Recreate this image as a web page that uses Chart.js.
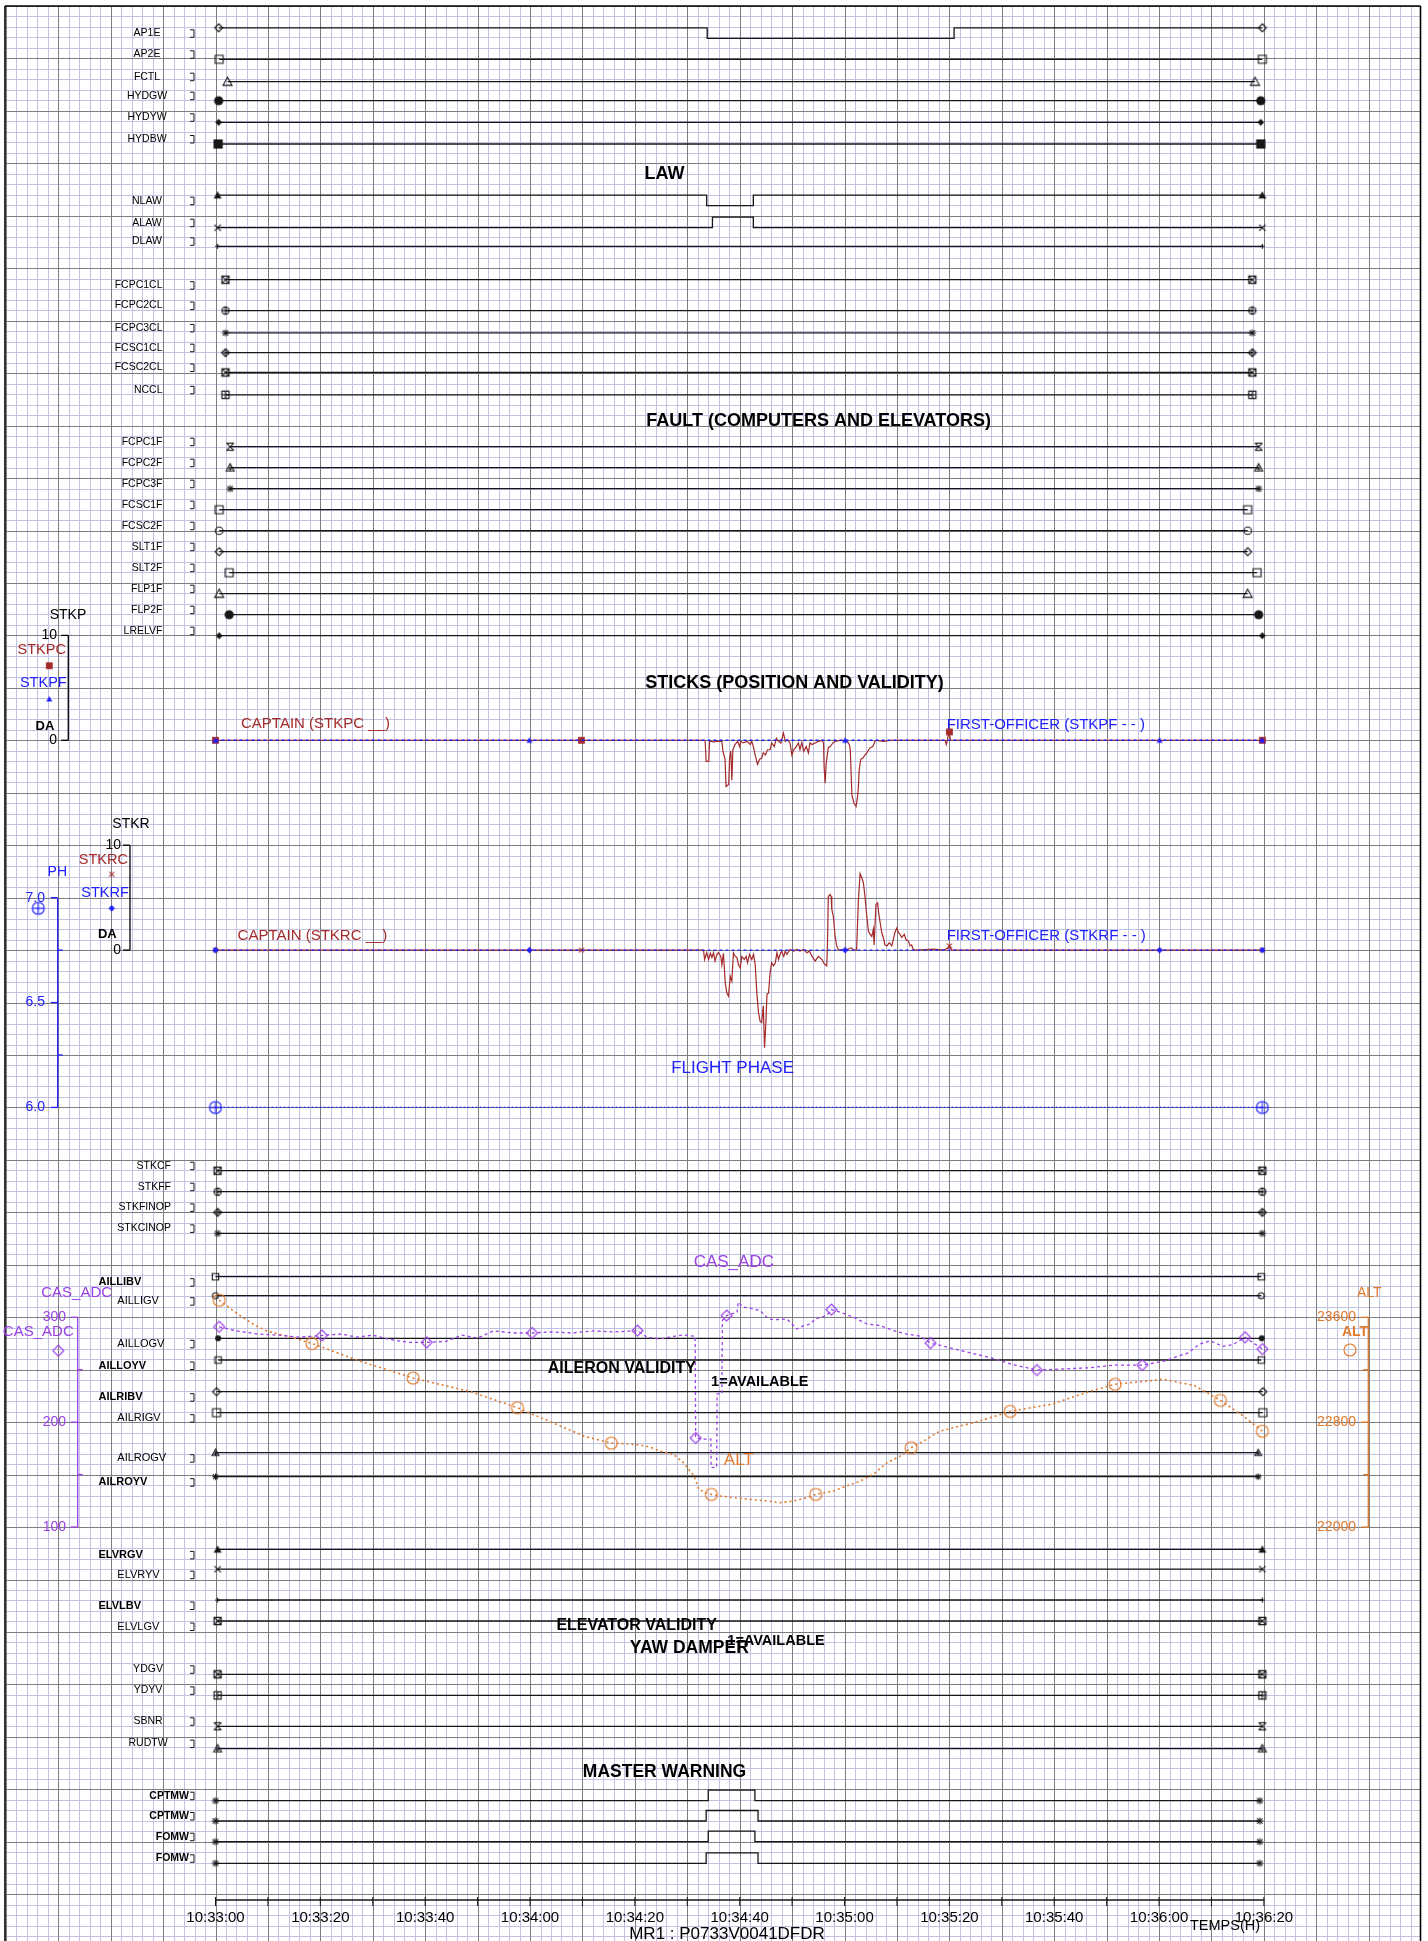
<!DOCTYPE html>
<html>
<head>
<meta charset="utf-8">
<title>DFDR MR1</title>
<script src="https://cdn.jsdelivr.net/npm/chart.js@4.4.1/dist/chart.umd.min.js"></script>
<style>
  html, body { margin: 0; padding: 0; background: #fff; }
  canvas { display: block; }
</style>
</head>
<body>
<canvas id="fdr" width="1428" height="1941"></canvas>
<script>
// time is in seconds after 10:33:00
const tickSeconds = [0, 20, 40, 60, 80, 100, 120, 140, 160, 180, 200];
const tickLabels = ['10:33:00', '10:33:20', '10:33:40', '10:34:00', '10:34:20', '10:34:40',
  '10:35:00', '10:35:20', '10:35:40', '10:36:00', '10:36:20'];

// discrete parameters (0/1)
const trackNames = ['AP1E', 'AP2E', 'FCTL', 'HYDGW', 'HYDYW', 'HYDBW',
  'NLAW', 'ALAW', 'DLAW',
  'FCPC1CL', 'FCPC2CL', 'FCPC3CL', 'FCSC1CL', 'FCSC2CL', 'NCCL',
  'FCPC1F', 'FCPC2F', 'FCPC3F', 'FCSC1F', 'FCSC2F', 'SLT1F', 'SLT2F', 'FLP1F', 'FLP2F', 'LRELVF',
  'STKCF', 'STKFF', 'STKFINOP', 'STKCINOP',
  'AILLIBV', 'AILLIGV', 'AILLOGV', 'AILLOYV', 'AILRIBV', 'AILRIGV', 'AILROGV', 'AILROYV',
  'ELVRGV', 'ELVRYV', 'ELVLBV', 'ELVLGV',
  'YDGV', 'YDYV', 'SBNR', 'RUDTW',
  'CPTMW', 'CPTMW', 'FOMW', 'FOMW'];
const trackLevel = [1, 0, 0, 0, 0, 0,
  1, 0, 0,
  1, 0, 0, 0, 0, 0,
  0, 0, 0, 0, 0, 0, 0, 0, 0, 0,
  0, 0, 0, 0,
  1, 1, 1, 1, 1, 1, 1, 1,
  1, 1, 1, 1,
  0, 0, 0, 0,
  0, 0, 0, 0];
const trackFirst = [0.6, 0.7, 2.3, 0.6, 0.6, 0.5,
  0.4, 0.4, 0.4,
  1.9, 1.9, 1.9, 1.9, 1.9, 1.9,
  2.8, 2.8, 2.8, 0.7, 0.7, 0.7, 2.6, 0.7, 2.6, 0.7,
  0.4, 0.4, 0.4, 0.4,
  0.0, 0.0, 0.5, 0.5, 0.2, 0.2, 0.0, 0.0,
  0.4, 0.4, 0.4, 0.4,
  0.4, 0.4, 0.4, 0.4,
  0.0, 0.0, 0.0, 0.0];
const trackLast = [199.7, 199.7, 198.3, 199.4, 199.4, 199.4,
  199.7, 199.7, 199.7,
  197.8, 197.8, 197.8, 197.8, 197.8, 197.8,
  199.0, 199.0, 199.0, 196.9, 196.9, 196.9, 198.7, 196.9, 199.0, 199.7,
  199.7, 199.7, 199.7, 199.7,
  199.5, 199.5, 199.6, 199.5, 199.8, 199.8, 198.9, 198.9,
  199.7, 199.7, 199.7, 199.7,
  199.7, 199.7, 199.7, 199.7,
  199.2, 199.2, 199.2, 199.2];
// [time, new level]
const ap1eSteps = [[93.8, 0], [140.9, 1]];
const nlawSteps = [[93.7, 0], [102.6, 1]];
const alawSteps = [[94.8, 1], [102.6, 0]];
const cptmw1Steps = [[94.0, 1], [102.9, 0]];
const cptmw2Steps = [[93.6, 1], [103.5, 0]];
const fomw1Steps = [[94.0, 1], [102.9, 0]];
const fomw2Steps = [[93.6, 1], [103.5, 0]];
const stepsByTrack = { 0: ap1eSteps, 6: nlawSteps, 7: alawSteps, 45: cptmw1Steps, 46: cptmw2Steps, 47: fomw1Steps, 48: fomw2Steps };

// stick positions (deg)
const stkpcT = [0, 69.8, 93.4, 93.6, 94.1, 94.25, 94.7, 95.0, 95.3, 96.6, 96.8, 97.2, 97.4, 97.9, 98.06, 98.3, 98.5, 98.7,
  99.1, 99.6, 100.0, 100.2, 100.7, 101.4, 102.0, 102.3, 102.6, 103.0, 103.4, 103.8, 104.2, 104.5, 104.9, 105.3, 105.8,
  106.1, 106.6, 107.0, 107.4, 107.85, 108.35, 108.7, 109.1, 109.6, 109.95, 110.3, 110.8, 111.2, 111.5, 111.85, 112.2,
  112.7, 113.1, 113.4, 113.8, 114.4, 115.0, 115.7, 116.0, 116.1, 116.3, 116.5, 116.9, 117.25, 117.8, 118.2, 118.8,
  119.5, 120.4, 120.9, 121.1, 121.4, 121.8, 122.2, 122.5, 122.65, 122.8, 123.1, 123.5, 123.9, 124.25, 124.6, 124.9,
  125.4, 125.8, 126.15, 127.4, 128.7, 139.2, 139.4, 139.6, 139.9, 140.0, 140.2, 199.7];
const stkpcV = [0, 0, 0, -2.0, -2.0, -0.1, -0.1, -0.2, -0.1, -0.1, -1.0, -1.8, -4.4, -4.2, -1.8, -1.0, -3.8, -0.9,
  -0.4, -0.1, -0.6, -0.1, -0.25, -0.1, -0.4, -0.1, -0.6, -1.5, -2.3, -1.8, -1.7, -1.2, -1.4, -0.9, -0.9,
  -0.25, -0.6, 0.2, -0.1, -0.25, 0.7, -0.1, 0.06, -0.25, -1.4, -0.9, -0.6, -0.25, -0.9, -0.2, -1.05,
  -0.6, -1.2, -0.25, -0.4, -0.25, -0.1, 0, -0.25, -2.5, -4.1, -2.2, -0.7, -0.6, -0.25, -0.1, -0.03,
  0, 0, -0.4, -0.9, -5.2, -6.0, -6.3, -5.3, -4.4, -2.8, -1.8, -1.7, -1.4, -1.2, -0.9, -0.7,
  -0.6, -0.1, 0, -0.1, 0, 0, -0.4, 0, 0.8, 0.8, 0, 0];
const stkpcMarks = [0, 69.8, 140.0, 199.7];
const stkpfT = [0, 59.9, 120.1, 180.1, 199.7];
const stkpfV = [0, 0, 0, 0, 0];

const stkrcT = [0, 69.8, 93.1, 93.3, 93.7, 94.06, 94.4, 94.7, 95.0, 95.3, 95.65, 95.96, 96.4, 96.6, 96.9, 97.24, 97.55,
  97.87, 98.2, 98.5, 98.8, 99.14, 99.46, 99.78, 100.1, 100.4, 100.86, 101.24, 101.5, 101.87, 102.3, 102.64, 102.96,
  103.27, 103.6, 103.9, 104.2, 104.5, 104.74, 105.0, 105.2, 105.5, 105.8, 106.1, 106.45, 106.8, 107.1, 107.4, 107.7,
  108.0, 108.4, 108.7, 109.0, 109.6, 110.3, 110.9, 111.5, 112.2, 112.8, 113.3, 113.8, 114.4, 115.0, 115.7, 116.0,
  116.3, 116.6, 116.74, 116.9, 117.25, 117.44, 117.57, 117.9, 118.2, 118.5, 118.8, 119.5, 120.4, 121.1, 121.4, 121.7,
  122.3, 122.65, 122.97, 123.3, 123.6, 123.9, 124.25, 124.56, 124.9, 125.2, 125.5, 125.64, 126.0, 126.3, 126.5, 126.8,
  127.1, 127.4, 127.7, 128.06, 128.56, 129.0, 129.3, 129.6, 129.96, 130.3, 130.6, 130.9, 131.4, 131.7, 132.2, 132.5,
  132.8, 133.1, 133.8, 137.0, 138.9, 139.8, 140.0, 140.45, 199.7];
const stkrcV = [0, 0, 0, -0.9, -0.25, -0.9, -0.3, -0.7, -0.25, -1.05, -0.4, -0.25, -0.6, -1.4, -0.3, -3.1, -4.1,
  -4.4, -2.5, -2.95, -0.25, -0.6, -0.7, -1.4, -1.7, -0.6, -0.9, -0.6, -1.2, -0.4, -0.9, -0.4, -1.4,
  -4.1, -6.0, -6.8, -6.9, -5.3, -9.3, -6.9, -4.2, -4.1, -2.2, -1.2, -1.5, -1.2, -0.25, -0.9, -0.4,
  -0.1, -0.6, -0.1, -0.4, 0.06, -0.1, 0.06, -0.1, 0.06, -0.25, -0.1, -0.6, -1.05, -0.6, -0.9, -1.2,
  -1.4, -1.5, 0.4, 5.1, 5.3, 5.1, 3.9, 3.1, 1.3, 0.4, 0.06, 0, 0, 0.2, 0.2, 0,
  0.06, 4.8, 7.3, 6.9, 6.4, 5.1, 3.2, 1.8, 1.5, 1.3, 2.0, 0.5, 4.35, 4.5, 3.6, 2.6,
  1.65, 1.2, 0.5, 0.4, 0.7, 0.4, 1.0, 1.65, 2.1, 1.65, 1.5, 1.2, 1.5, 1.0, 0.86, 0.4,
  0.5, 0.06, 0, 0.1, 0, 0.2, 0.4, 0, 0];
const stkrcMarks = [0, 69.8, 140.0, 199.7];
const stkrfT = [0, 59.9, 120.1, 180.1, 199.7];
const stkrfV = [0, 0, 0, 0, 0];

// flight phase
const phT = [0, 199.7];
const phV = [6, 6];

// computed airspeed (kt)
const casT = [0.7, 4, 8, 12, 16, 20.3, 24, 27, 30, 33, 37, 40.3, 44, 47, 50, 53, 57, 60.4, 64, 68,
  72, 76, 80.5, 82.3, 84.8, 87.4, 89.3, 91.5, 91.6, 93.1, 94.5, 94.55, 95.6, 95.7, 96.6, 96.7, 97.5, 99.5, 99.7, 100.7,
  102.0, 103.9, 105.5, 106.5, 109.0, 110.0, 110.9, 112.2, 113.5, 114.4, 116.6, 117.5, 119.2, 121.7, 124.3, 126.8,
  129.4, 131.9, 134.5, 136.4, 140, 144, 148, 152, 156.7, 161.7, 166.9, 171.4, 176.8, 180.8, 185.5, 187.8, 189.7,
  192.2, 194, 196.4, 199.7];
const casV = [290.9, 287, 284, 283, 281, 282.6, 284, 281, 283, 279, 276, 276, 277, 283, 280, 287, 285, 285, 286, 285,
  287, 286, 287.2, 280.9, 279.3, 281.8, 283.1, 281.8, 184.9, 183.9, 183.9, 156.9, 156.9, 226.9, 226.9, 296.9, 301.6, 304.8, 314.4, 309.6,
  308.6, 306.4, 298.4, 297.5, 298.4, 293.6, 288.8, 292, 293.6, 298.4, 301.6, 307.3, 304.8, 300, 293.6, 292,
  287.2, 284, 281.8, 275.4, 271, 266, 261.3, 255, 249.6, 250.7, 251.9, 254.4, 254.4, 258, 266, 274.5, 277.6,
  272.3, 273.7, 280.9, 269.7];
const casMarks = [0.7, 20.3, 40.3, 60.4, 80.5, 91.6, 97.5, 117.5, 136.4, 156.7, 176.8, 196.4, 199.7];

// altitude (ft)
const altT = [0.7, 3.5, 7.3, 9.9, 14.9, 18.4, 27.4, 37.7, 48.7, 57.6, 65.2, 70.5, 75.5, 78.5, 81.0, 82.9, 84.8, 87.4,
  89.3, 91.3, 92.2, 93.5, 94.6, 96.3, 98.8, 102.0, 105.2, 107.7, 110.3, 112.8, 114.5, 117.9, 120.4, 123.0, 125.5,
  128.1, 130.6, 132.7, 135.1, 138.2, 145, 151.6, 159.6, 166.6, 171.6, 180.8, 186.7, 191.7, 196.1, 199.7];
const altV = [23730, 23646, 23544, 23493, 23443, 23400, 23268, 23136, 23032, 22910, 22780, 22690, 22640, 22635,
  22625, 22610, 22579, 22554, 22490, 22389, 22287, 22262, 22249, 22237, 22224, 22211, 22199, 22186, 22199, 22224,
  22249, 22275, 22313, 22351, 22402, 22490, 22541, 22605, 22656, 22732, 22800, 22882, 22938, 23032, 23089, 23127,
  23080, 22966, 22846, 22731];
const altMarks = [0.7, 18.4, 37.7, 57.6, 75.5, 94.6, 114.5, 132.7, 151.6, 171.6, 191.7, 199.7];

// axis ticks
const stkpTicks = [0, 10];
const stkrTicks = [0, 10];
const phTicks = [6.0, 6.5, 7.0];
const casTicks = [100, 200, 300];
const altTicks = [22000, 22800, 23600];

// ---- paper layout ----
const W = 1428, H = 1941;
const X0 = 215.5, PX_PER_S = 5.242;
const ROW0 = 6, CELL = 10.49;
const FRAME_L = 5, FRAME_R = 1420.5, FRAME_T = 6;
const rowOf = px => (px - ROW0) / CELL;
const gridY = k => ROW0 + k * CELL;
const FONT = "'Liberation Sans', Arial, Helvetica, sans-serif";
const INK = '#000', LINE = '#161616', RED = '#a52a2a', BLUE = '#2020ff', PURPLE = '#9a40e6', ORANGE = '#e07a2c';
const GRID_MINOR = '#c2c2e2', GRID_MAJOR = '#7d7d7d';

// baseline (level 0) of each discrete trace, in px
const trackY = [38.3, 59.3, 81.7, 100.7, 122.3, 144,
  205.7, 227.7, 246.3,
  290.2, 310.6, 332.9, 352.7, 372.5, 394.8,
  446.7, 467.7, 488.7, 509.7, 530.7, 551.7, 572.7, 593.7, 614.7, 635.7,
  1170.7, 1191.7, 1212.4, 1233.4,
  1287.2, 1306.2, 1348.8, 1370.5, 1402.2, 1423.2, 1463.2, 1487.2,
  1559.9, 1579.7, 1610.5, 1631.5,
  1674.3, 1695.4, 1726.3, 1748.6,
  1800.7, 1821, 1841.7, 1863.3];
const trackMark = ['diamond', 'square', 'triangle', 'circleF', 'diamondS', 'squareF',
  'triangleF', 'cross', 'plusS',
  'squareX', 'circlePlus', 'star', 'diamondPlus', 'squareX', 'squarePlus',
  'hourglass', 'triPlus', 'star', 'square', 'circle', 'diamond', 'square', 'triangle', 'circleF', 'diamondS',
  'squareX', 'circlePlus', 'diamondPlus', 'star',
  'squareS', 'circleS', 'circleFS', 'squareS', 'diamond', 'square', 'triPlusS', 'starS',
  'triangleF', 'cross', 'plusS', 'squareX',
  'squareX', 'squarePlus', 'hourglass', 'triPlus',
  'star', 'star', 'star', 'star'];
const trackLabelKind = ['c', 'c', 'c', 'c', 'c', 'c',
  'c', 'c', 'c',
  'r', 'r', 'r', 'r', 'r', 'r',
  'r', 'r', 'r', 'r', 'r', 'r', 'r', 'r', 'r', 'r',
  's', 's', 's', 's',
  'B', 'N', 'N', 'B', 'B', 'N', 'N', 'B',
  'B', 'N', 'B', 'N',
  'y', 'y', 'y', 'y',
  'm', 'm', 'm', 'm'];
const labelKinds = {
  c: { x: 147, align: 'center', font: '10.5px' },
  r: { x: 162.5, align: 'right', font: '10.5px' },
  s: { x: 171, align: 'right', font: '10.5px' },
  B: { x: 98.5, align: 'left', font: 'bold 11px' },
  N: { x: 117.3, align: 'left', font: '11px' },
  y: { x: 148, align: 'center', font: '10.5px' },
  m: { x: 189, align: 'right', font: 'bold 10.5px' }
};

const texts = [
  ['LAW', 664.5, 174.5, 'bold 18px', INK, 'center'],
  ['FAULT (COMPUTERS AND ELEVATORS)', 818.6, 420.7, 'bold 18px', INK, 'center'],
  ['STICKS (POSITION AND VALIDITY)', 794.5, 683, 'bold 18px', INK, 'center'],
  ['AILERON VALIDITY', 621.8, 1368.7, 'bold 16px', INK, 'center'],
  ['1=AVAILABLE', 759.8, 1382.3, 'bold 14.5px', INK, 'center'],
  ['ELEVATOR VALIDITY', 636.7, 1626, 'bold 16px', INK, 'center'],
  ['1=AVAILABLE', 776, 1641, 'bold 14.5px', INK, 'center'],
  ['YAW DAMPER', 689.3, 1648, 'bold 17.5px', INK, 'center'],
  ['MASTER WARNING', 664.5, 1772, 'bold 17.5px', INK, 'center'],
  ['CAPTAIN (STKPC __)', 241, 724, '15px', RED, 'left'],
  ['FIRST-OFFICER (STKPF - - )', 946.7, 725, '15px', BLUE, 'left'],
  ['CAPTAIN (STKRC __)', 237.6, 935.5, '15px', RED, 'left'],
  ['FIRST-OFFICER (STKRF - - )', 946.7, 935.5, '15px', BLUE, 'left'],
  ['FLIGHT PHASE', 732.6, 1068, '17px', BLUE, 'center'],
  ['CAS_ADC', 733.8, 1262, '17px', PURPLE, 'center'],
  ['ALT', 738.8, 1460, '17px', ORANGE, 'center'],
  ['STKP', 68, 615, '14px', INK, 'center'],
  ['STKPC', 41.7, 650, '14.5px', RED, 'center'],
  ['STKPF', 43.3, 683.3, '14.5px', BLUE, 'center'],
  ['DA', 45, 726, 'bold 13px', INK, 'center'],
  ['STKR', 131, 824, '14px', INK, 'center'],
  ['STKRC', 103.3, 860, '14.5px', RED, 'center'],
  ['STKRF', 105, 892.7, '14.5px', BLUE, 'center'],
  ['DA', 107.3, 934, 'bold 13px', INK, 'center'],
  ['PH', 57.3, 872.3, '14px', BLUE, 'center'],
  ['CAS_ADC', 76.7, 1292.7, '15px', PURPLE, 'center'],
  ['CAS_ADC', 38.3, 1332.3, '15px', PURPLE, 'center'],
  ['ALT', 1369.3, 1292.7, '14px', ORANGE, 'center'],
  ['ALT', 1355, 1331.7, 'bold 14px', ORANGE, 'center'],
  ['MR1 : P0733V0041DFDR', 727, 1934, '17px', INK, 'center'],
  ['TEMPS(H)', 1225, 1926, '14.5px', INK, 'center']
];

// ---- point marker glyphs ----
function makeMark(shape, color, r) {
  const s = Math.ceil(2 * r + 4), c = document.createElement('canvas');
  c.width = s; c.height = s;
  const g = c.getContext('2d'), m = s / 2;
  g.strokeStyle = color; g.fillStyle = color; g.lineWidth = 1.1;
  const seg = (x1, y1, x2, y2) => { g.beginPath(); g.moveTo(m + x1, m + y1); g.lineTo(m + x2, m + y2); g.stroke(); };
  const poly = (pts, fill) => {
    g.beginPath();
    pts.forEach(([x, y], i) => i ? g.lineTo(m + x, m + y) : g.moveTo(m + x, m + y));
    g.closePath(); fill ? g.fill() : g.stroke();
  };
  const sq = f => poly([[-r, -r], [r, -r], [r, r], [-r, r]], f);
  const di = f => poly([[0, -r], [r, 0], [0, r], [-r, 0]], f);
  const tr = f => poly([[0, -r], [r, r * 0.8], [-r, r * 0.8]], f);
  const ci = f => { g.beginPath(); g.arc(m, m, r, 0, Math.PI * 2); f ? g.fill() : g.stroke(); };
  const plus = k => { seg(-r * k, 0, r * k, 0); seg(0, -r * k, 0, r * k); };
  const ex = k => { seg(-r * k, -r * k, r * k, r * k); seg(-r * k, r * k, r * k, -r * k); };
  switch (shape) {
    case 'square': sq(false); break;
    case 'squareF': sq(true); break;
    case 'diamond': di(false); break;
    case 'diamondF': di(true); break;
    case 'triangle': tr(false); break;
    case 'triangleF': tr(true); break;
    case 'circle': ci(false); break;
    case 'circleF': ci(true); break;
    case 'cross': ex(0.8); break;
    case 'plus': plus(1); break;
    case 'star': plus(1); ex(0.75); break;
    case 'squareX': sq(false); ex(1); break;
    case 'squarePlus': sq(false); plus(1); break;
    case 'circlePlus': ci(false); plus(1); break;
    case 'diamondPlus': di(false); plus(0.9); break;
    case 'hourglass': seg(-r, -r, r, -r); seg(-r, r, r, r); ex(1); break;
    case 'triPlus': tr(false); seg(0, -r * 0.4, 0, r * 0.8); seg(-r * 0.45, r * 0.25, r * 0.45, r * 0.25); break;
  }
  return c;
}
const markSpec = {
  diamond: ['diamond', 4], square: ['square', 4], triangle: ['triangle', 4.5], circleF: ['circleF', 4.6],
  diamondS: ['diamondF', 3.4], squareF: ['squareF', 4.6], triangleF: ['triangleF', 4], cross: ['cross', 4],
  plusS: ['plus', 2.5], squareX: ['squareX', 3.6], circlePlus: ['circlePlus', 3.6], star: ['star', 3.6],
  diamondPlus: ['diamondPlus', 4], squarePlus: ['squarePlus', 3.6], hourglass: ['hourglass', 3.6],
  triPlus: ['triPlus', 4], circle: ['circle', 3.8], squareS: ['square', 3.2], circleS: ['circle', 3],
  circleFS: ['circleF', 3], triPlusS: ['triPlus', 3.4], starS: ['star', 3.2]
};
const markCache = {};
function markImg(name) {
  if (!markCache[name]) markCache[name] = makeMark(markSpec[name][0], LINE, markSpec[name][1]);
  return markCache[name];
}

// ---- scales ----
function fitAxis(v0, p0, v1, p1) {
  const k = (v1 - v0) / (p1 - p0);
  return { min: v0 + (H - p0) * k, max: v0 - p0 * k };
}
const zip = (ts, vs) => ts.map((t, i) => ({ x: t, y: vs[i] }));
const markedAt = (marks, r) => ctx => (ctx.raw && marks.includes(ctx.raw.x)) ? r : 0;

// ---- datasets ----
const datasets = [];
datasets.push({
  data: zip(casT, casV), yAxisID: 'yCAS', borderColor: PURPLE, borderWidth: 1.3, borderDash: [3, 3],
  pointStyle: makeMark('diamond', PURPLE, 5.5), pointRadius: markedAt(casMarks, 5)
});
datasets.push({
  data: zip(altT, altV), yAxisID: 'yALT', borderColor: ORANGE, borderWidth: 1.6, borderDash: [2, 3],
  pointStyle: makeMark('circle', ORANGE, 6), pointRadius: markedAt(altMarks, 6)
});
datasets.push({
  data: zip(phT, phV), yAxisID: 'yPH', borderColor: BLUE, borderWidth: 1.2, borderDash: [2, 2],
  pointStyle: makeMark('circlePlus', BLUE, 6), pointRadius: 6
});
datasets.push({
  data: zip(stkpfT, stkpfV), yAxisID: 'ySP', borderColor: BLUE, borderWidth: 1.4, borderDash: [3, 3],
  pointStyle: makeMark('triangleF', BLUE, 3), pointRadius: 3
});
datasets.push({
  data: zip(stkpcT, stkpcV), yAxisID: 'ySP', borderColor: RED, borderWidth: 1.2,
  pointStyle: makeMark('squareF', RED, 3.4), pointRadius: markedAt(stkpcMarks, 3)
});
datasets.push({
  data: zip(stkrfT, stkrfV), yAxisID: 'ySR', borderColor: BLUE, borderWidth: 1.4, borderDash: [3, 3],
  pointStyle: makeMark('diamondF', BLUE, 3.2), pointRadius: 3
});
datasets.push({
  data: zip(stkrcT, stkrcV), yAxisID: 'ySR', borderColor: RED, borderWidth: 1.2,
  pointStyle: makeMark('cross', RED, 3), pointRadius: markedAt(stkrcMarks, 3)
});

trackNames.forEach((name, i) => {
  const base = rowOf(trackY[i]);
  const pts = [{ x: trackFirst[i], y: base - trackLevel[i] }];
  let lv = trackLevel[i];
  (stepsByTrack[i] || []).forEach(([t, v]) => { pts.push({ x: t, y: base - v }); lv = v; });
  pts.push({ x: trackLast[i], y: base - lv });
  datasets.push({
    label: name, data: pts, yAxisID: 'yRow', stepped: true, borderColor: LINE, borderWidth: 1.3,
    pointStyle: markImg(trackMark[i]),
    pointRadius: ctx => (ctx.dataIndex === 0 || ctx.dataIndex === pts.length - 1) ? 4 : 0
  });
});

// ---- paper drawing ----
function txt(g, s, x, y, font, color, align) {
  g.font = font + ' ' + FONT;
  g.fillStyle = color;
  g.textAlign = align || 'center';
  g.textBaseline = 'middle';
  g.fillText(s, x, y);
}
function seg(g, x1, y1, x2, y2) { g.beginPath(); g.moveTo(x1, y1); g.lineTo(x2, y2); g.stroke(); }

const valueAxes = [
  { id: 'ySP', x: 68.3, ticks: stkpTicks, minor: [], side: 0, color: INK, labelX: 57, dec: 0 },
  { id: 'ySR', x: 130, ticks: stkrTicks, minor: [], side: 0, color: INK, labelX: 121, dec: 0 },
  { id: 'yPH', x: 57.7, ticks: phTicks, minor: [6.25, 6.75], side: 1, color: BLUE, labelX: 45, dec: 1 },
  { id: 'yCAS', x: 77.7, ticks: casTicks, minor: [150, 250], side: 1, color: PURPLE, labelX: 66, dec: 0 },
  { id: 'yALT', x: 1368.3, ticks: altTicks, minor: [22400, 23200], side: -1, color: ORANGE, labelX: 1356, dec: 0 }
];

const paper = {
  id: 'paper',
  beforeDraw(chart) {
    const g = chart.ctx;
    g.save(); g.fillStyle = '#fff'; g.fillRect(0, 0, W, H); g.restore();
  },
  beforeDatasetsDraw(chart) {
    const g = chart.ctx, xs = chart.scales.x, rs = chart.scales.yRow;
    const vx = [], hy = [];
    for (let t = -40; t <= 230; t += 2) vx.push([Math.round(xs.getPixelForValue(t)) + 0.5, t % 10 === 0]);
    for (let k = 0; k <= 184; k++) hy.push([Math.round(rs.getPixelForValue(k)) + 0.5, k % 5 === 0]);
    g.save();
    g.beginPath(); g.rect(FRAME_L, FRAME_T, FRAME_R - FRAME_L, H - FRAME_T); g.clip();
    g.lineWidth = 1;
    [false, true].forEach(major => {
      g.strokeStyle = major ? GRID_MAJOR : GRID_MINOR;
      g.beginPath();
      vx.forEach(([p, m]) => { if (m === major) { g.moveTo(p, 0); g.lineTo(p, H); } });
      hy.forEach(([p, m]) => { if (m === major) { g.moveTo(0, p); g.lineTo(W, p); } });
      g.stroke();
    });
    g.restore();
  },
  afterDatasetsDraw(chart) {
    const g = chart.ctx, xs = chart.scales.x;
    g.save();

    // frame
    g.strokeStyle = '#000'; g.lineWidth = 1.6;
    seg(g, FRAME_L, FRAME_T, FRAME_L, H); seg(g, FRAME_R, FRAME_T, FRAME_R, H); seg(g, FRAME_L, FRAME_T, FRAME_R, FRAME_T);

    // labels and brackets of the discrete traces
    g.lineWidth = 1;
    trackNames.forEach((name, i) => {
      const base = trackY[i], k = labelKinds[trackLabelKind[i]];
      txt(g, name, k.x, base - 5, k.font, INK, k.align);
      g.strokeStyle = LINE;
      g.beginPath();
      g.moveTo(190, base - 8.5); g.lineTo(194, base - 8.5); g.lineTo(194, base - 1); g.lineTo(190, base - 1);
      g.stroke();
    });

    // value axes
    valueAxes.forEach(a => {
      const sc = chart.scales[a.id];
      const yTop = sc.getPixelForValue(a.ticks[a.ticks.length - 1]);
      const yBot = sc.getPixelForValue(a.ticks[0]);
      g.strokeStyle = a.color; g.lineWidth = 1.3;
      seg(g, a.x, yTop, a.x, yBot);
      a.ticks.forEach(v => {
        const y = sc.getPixelForValue(v);
        seg(g, a.x - 7, y, a.x, y);
        txt(g, v.toFixed(a.dec), a.labelX, y, '14px', a.color, 'right');
      });
      a.minor.forEach(v => {
        const y = sc.getPixelForValue(v);
        seg(g, a.x, y, a.x + 5 * a.side, y);
      });
    });

    // legend glyphs beside the axis names
    const glyphs = [
      [makeMark('squareF', RED, 3.4), 49.3, 665.7],
      [makeMark('triangleF', BLUE, 3), 49.3, 699],
      [makeMark('cross', RED, 3), 111.7, 874.3],
      [makeMark('diamondF', BLUE, 3.2), 111.7, 908.3],
      [makeMark('circlePlus', BLUE, 6), 38.3, 908.3],
      [makeMark('diamond', PURPLE, 5.5), 58.3, 1350.7],
      [makeMark('circle', ORANGE, 6), 1350, 1350]
    ];
    glyphs.forEach(([img, x, y]) => g.drawImage(img, x - img.width / 2, y - img.height / 2));

    // time axis
    const ay = 1900;
    g.strokeStyle = LINE; g.lineWidth = 1.3;
    seg(g, xs.getPixelForValue(0), ay, xs.getPixelForValue(200), ay);
    g.lineWidth = 1;
    for (let t = 0; t <= 200; t += 10) {
      const x = xs.getPixelForValue(t);
      seg(g, x, ay - 3, x, ay + 6);
    }
    tickSeconds.forEach((t, i) => txt(g, tickLabels[i], xs.getPixelForValue(t), 1918, '15px', INK, 'center'));

    texts.forEach(([s, x, y, f, c, al]) => txt(g, s, x, y, f, c, al));
    g.restore();
  }
};

new Chart(document.getElementById('fdr').getContext('2d'), {
  type: 'line',
  data: { datasets },
  options: {
    responsive: false,
    animation: false,
    events: [],
    layout: { autoPadding: false, padding: 0 },
    elements: { line: { tension: 0, fill: false }, point: { hitRadius: 0 } },
    plugins: { legend: { display: false }, tooltip: { enabled: false } },
    scales: {
      x: { type: 'linear', min: -X0 / PX_PER_S, max: (W - X0) / PX_PER_S, display: false },
      yRow: { type: 'linear', min: rowOf(0), max: rowOf(H), reverse: true, display: false },
      ySP: Object.assign({ type: 'linear', display: false }, fitAxis(0, gridY(70), 10, gridY(60))),
      ySR: Object.assign({ type: 'linear', display: false }, fitAxis(0, gridY(90), 10, gridY(80))),
      yPH: Object.assign({ type: 'linear', display: false }, fitAxis(6, gridY(105), 7, gridY(85))),
      yCAS: Object.assign({ type: 'linear', display: false }, fitAxis(100, gridY(145), 300, gridY(125))),
      yALT: Object.assign({ type: 'linear', display: false }, fitAxis(22000, gridY(145), 23600, gridY(125)))
    }
  },
  plugins: [paper]
});
</script>
</body>
</html>
